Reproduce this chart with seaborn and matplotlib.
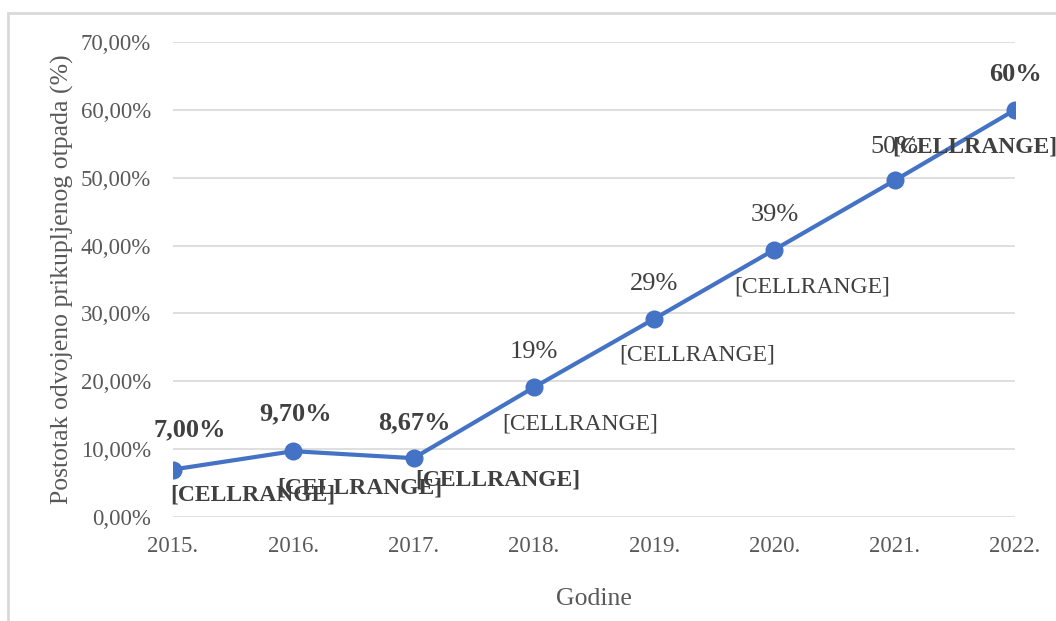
import matplotlib
matplotlib.use("Agg")
import matplotlib.pyplot as plt
import seaborn as sns
import pandas as pd
from matplotlib.patches import Rectangle
from matplotlib.ticker import FuncFormatter

# ---- data ----
years = ["2015.", "2016.", "2017.", "2018.", "2019.", "2020.", "2021.", "2022."]
values = [7.00, 9.70, 8.67, 19.1, 29.2, 39.4, 49.6, 60.0]
value_labels = ["7,00%", "9,70%", "8,67%", "19%", "29%", "39%", "50%", "60%"]
range_labels = ["[CELLRANGE]"] * 7 + [""]
x_title = "Godine"
y_title = "Postotak odvojeno prikupljenog otpada (%)"

df = pd.DataFrame({"idx": range(len(years)), "year": years, "value": values})

sns.set_theme(style="white")
plt.rcParams["font.family"] = ["Liberation Serif", "DejaVu Serif"]

fig = plt.figure(figsize=(10.56, 6.21), dpi=100)
ax = fig.add_axes([173 / 1056, 1 - 517 / 621, (1015 - 173) / 1056, (517 - 42) / 621])

line_color = "#4472C4"
sns.lineplot(data=df, x="idx", y="value", ax=ax, color=line_color, linewidth=3.0,
             marker="o", markersize=13, markeredgewidth=0, zorder=3)

ax.set_xlim(0, len(years) - 1)
ax.set_ylim(0, 70)
ax.set_yticks(range(0, 71, 10))
ax.yaxis.set_major_formatter(FuncFormatter(lambda v, p: f"{v:.2f}%".replace(".", ",")))
ax.set_xticks(df["idx"])
ax.set_xticklabels(years)
ax.grid(axis="y", color="#D9D9D9", linewidth=1.2)
ax.grid(axis="x", visible=False)
for s in ax.spines.values():
    s.set_visible(False)
ax.tick_params(axis="both", length=0, labelsize=16.5, labelcolor="#595959")
ax.tick_params(axis="y", pad=16)
ax.tick_params(axis="x", pad=14)
ax.set_xlabel(x_title, fontsize=18.5, color="#595959", labelpad=22)
ax.set_ylabel(y_title, fontsize=18.5, color="#595959")
ax.yaxis.set_label_coords((74 - 173) / 842, 0.5)

# label styling: (value dx, dy px, bold), (range dx, dy px, bold)
val_style = [(17, 40, True), (2, 37, True), (1, 35, True), (0, 35, False),
             (0, 35, False), (0, 35, False), (0, 33, False), (0, 35, True)]
rng_style = [(80, -25, True), (67, -37, True), (84, -22, True), (46, -37, False),
             (43, -36, False), (38, -37, False), (80, 33, True), (0, 0, False)]
pt = 0.72
for i, (v, vl, rl) in enumerate(zip(values, value_labels, range_labels)):
    dx, dy, b = val_style[i]
    ax.annotate(vl, (i, v), xytext=(dx * pt, dy * pt), textcoords="offset points",
                ha="center", va="center", fontsize=19,
                fontweight="bold" if b else "normal", color="#404040",
                annotation_clip=False, zorder=4)
    if rl:
        dx, dy, b = rng_style[i]
        ax.annotate(rl, (i, v), xytext=(dx * pt, dy * pt), textcoords="offset points",
                    ha="center", va="center", fontsize=17,
                    fontweight="bold" if b else "normal", color="#404040",
                    annotation_clip=False, zorder=4)

# outer chart border
fig.patches.append(Rectangle((8 / 1056, -0.05), 1.1, 1 - 13 / 621 + 0.05,
                             transform=fig.transFigure, fill=False,
                             edgecolor="#D9D9D9", linewidth=2))

fig.savefig("out.png", dpi=100)
